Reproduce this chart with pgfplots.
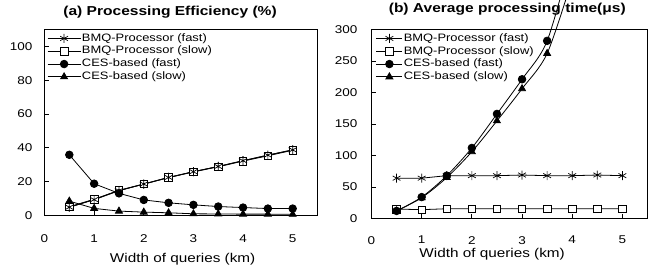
\documentclass[border=0pt]{standalone}
\usepackage{fontspec}
\setmainfont{Liberation Sans}
\usepackage{graphicx}
\usepackage{pgfplots}
\pgfplotsset{compat=1.18}
\newcommand{\sx}[1]{\scalebox{1.2}[1]{#1}}
\tikzset{
  myframe/.style={black, line width=1.1bp},
  mytk/.style={black, line width=0.9bp},
}
\pgfplotsset{
  myax/.style={
    scale only axis, anchor=south west, clip=false,
    xmin=0, xmax=5.5, xtick={0,1,2,3,4,5},
    axis line style={draw=none}, tick style={draw=none},
    xtick pos=bottom, ytick pos=left,
    xticklabel={\sx{\pgfmathprintnumber[assume math mode=true]{\tick}}},
    yticklabel={\sx{\pgfmathprintnumber[assume math mode=true]{\tick}}},
    ticklabel style={font=\fontsize{11.3}{13}\selectfont},
    legend cell align=left,
    legend style={draw=none, fill=none, font=\fontsize{10.8}{12}\selectfont,
      at={(axis description cs:0,1)}, anchor=north west, inner sep=0pt, row sep=1.3bp,
      nodes={inner sep=1bp, text height=7.5bp, text depth=2bp}},
    every axis plot/.append style={black, line width=0.8bp},
    title style={font=\bfseries\fontsize{13}{15}\selectfont, anchor=base},
    xlabel style={font=\fontsize{12.8}{14}\selectfont, anchor=base},
  },
  bmqf/.style={mark=asterisk, mark size=4.5bp, mark options={solid, line width=0.7bp}},
  bmqs/.style={mark=square*, mark size=3.8bp, mark options={solid, fill=white, line width=0.7bp}},
  cesf/.style={mark=*, mark size=3.8bp, mark options={solid}},
  cess/.style={mark=triangle*, mark size=4bp, mark options={solid}},
}
\begin{document}
\begin{tikzpicture}
\useasboundingbox (0bp,0bp) rectangle (648bp,273bp);
% ---------- (a) ----------
\begin{axis}[myax,
  at={(44.5bp,57.5bp)}, width=273bp, height=186bp,
  ymin=0, ymax=110, ytick={0,20,40,60,80,100},
  xticklabel style={yshift=-15.9bp},
  yticklabel style={xshift=-8.5bp},
  title={\sx{(a) Processing Efficiency (\%)}},
  title style={at={(axis description cs:0.46,1)}, yshift=7.8bp},
  xlabel={\sx{Width of queries (km)}},
  xlabel style={at={(axis description cs:0.506,0)}, yshift=-46.5bp},
  legend style={xshift=2.5bp, yshift=-3bp},
  legend image code/.code={\draw[mark repeat=2,mark phase=2,#1] plot coordinates {(0bp,0bp)(16.5bp,0bp)(33bp,0bp)};},
]
\draw[myframe] (rel axis cs:0,0) rectangle (rel axis cs:1,1);
\pgfplotsinvokeforeach{1,2,3,4,5}{\draw[mytk] (axis cs:#1,0) -- ++(0bp,4bp);}
\pgfplotsinvokeforeach{20,40,60,80,100}{\draw[mytk] (axis cs:0,#1) -- ++(4bp,0bp);}
\addplot[bmqf] coordinates {(0.5,4.9)(1,9.4)(1.5,14.7)(2,18.6)(2.5,22.5)(3,25.9)(3.5,29.0)(4,32.4)(4.5,35.7)(5,38.8)};
\addlegendentry{\sx{BMQ-Processor (fast)}}
\addplot[bmqs] coordinates {(0.5,5.2)(1,9.6)(1.5,14.9)(2,18.6)(2.5,22.4)(3,25.8)(3.5,28.8)(4,32.2)(4.5,35.3)(5,38.6)};
\addlegendentry{\sx{BMQ-Processor (slow)}}
\addplot[cesf] coordinates {(0.5,35.9)(1,18.8)(1.5,13.1)(2,9.2)(2.5,7.5)(3,6.3)(3.5,5.3)(4,4.7)(4.5,4.1)(5,4.1)};
\addlegendentry{\sx{CES-based (fast)}}
\addplot[cess] coordinates {(0.5,8.5)(1,4.2)(1.5,2.6)(2,2.0)(2.5,1.6)(3,1.0)(3.5,0.9)(4,0.8)(4.5,0.8)(5,0.7)};
\addlegendentry{\sx{CES-based (slow)}}
\addplot[bmqf, forget plot] coordinates {(0.5,4.9)(1,9.4)(1.5,14.7)(2,18.6)(2.5,22.5)(3,25.9)(3.5,29.0)(4,32.4)(4.5,35.7)(5,38.8)};
\end{axis}
% ---------- (b) ----------
\begin{axis}[myax,
  at={(371.5bp,54.5bp)}, width=276bp, height=189bp,
  ymin=0, ymax=300, ytick={0,50,100,150,200,250,300},
  xticklabel style={yshift=-14.2bp},
  yticklabel style={xshift=-10.6bp},
  title={\sx{(b) Average processing time(μs)}},
  title style={at={(axis description cs:0.492,1)}, yshift=11.2bp},
  xlabel={\sx{Width of queries (km)}},
  xlabel style={at={(axis description cs:0.437,0)}, yshift=-39bp},
  legend style={xshift=4.3bp, yshift=-3bp},
  legend image code/.code={\draw[mark repeat=2,mark phase=2,#1] plot coordinates {(0bp,0bp)(13bp,0bp)(26bp,0bp)};},
]
\draw[myframe] (rel axis cs:0,0) rectangle (rel axis cs:1,1);
\pgfplotsinvokeforeach{1,2,3,4,5}{\draw[mytk] (axis cs:#1,0) -- ++(0bp,4bp);}
\pgfplotsinvokeforeach{50,100,150,200,250}{\draw[mytk] (axis cs:0,#1) -- ++(4bp,0bp);}
\addplot[bmqf] coordinates {(0.5,64)(1,64)(1.5,68)(2,68)(2.5,68)(3,69)(3.5,68)(4,68)(4.5,69)(5,68)};
\addlegendentry{\sx{BMQ-Processor (fast)}}
\addplot[bmqs] coordinates {(0.5,15)(1,14)(1.5,15.5)(2,15.5)(2.5,15.5)(3,15.5)(3.5,15.5)(4,15.5)(4.5,15.5)(5,15.5)};
\addlegendentry{\sx{BMQ-Processor (slow)}}
\addplot[cesf, smooth] coordinates {(0.5,12)(1,34)(1.5,68)(2,112)(2.5,166)(3,221)(3.5,282)(4,420)};
\addlegendentry{\sx{CES-based (fast)}}
\addplot[cess, smooth] coordinates {(0.5,12)(1,33)(1.5,65)(2,106)(2.5,155)(3,206)(3.5,262)(4,380)};
\addlegendentry{\sx{CES-based (slow)}}
\end{axis}
\end{tikzpicture}
\end{document}
